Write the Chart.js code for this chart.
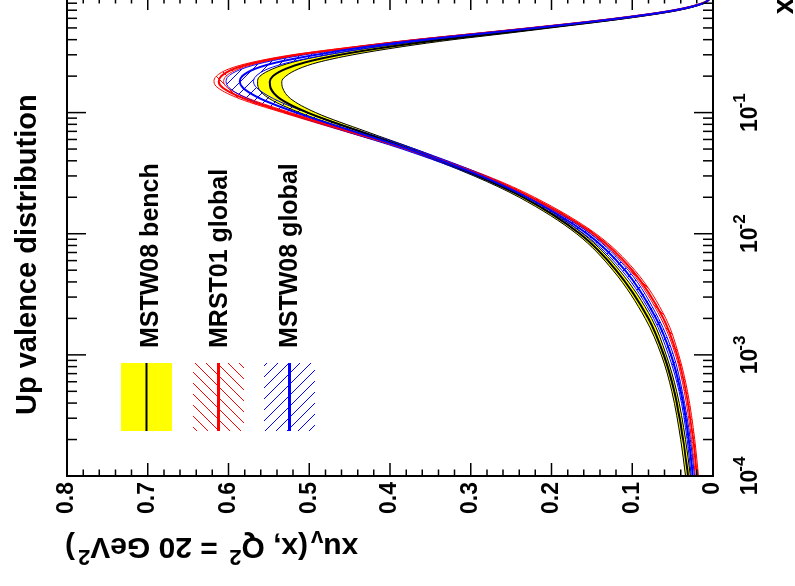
<!DOCTYPE html>
<html>
<head>
<meta charset="utf-8">
<script src="https://cdn.jsdelivr.net/npm/chart.js@4.4.0/dist/chart.umd.min.js"></script>
<style>
html, body { margin: 0; padding: 0; background: #fff; overflow: hidden; width: 795px; height: 586px; }
/* the plot is drawn upright, then turned a quarter turn like the original page */
#wrap { position: absolute; left: 0; top: 0; width: 600px; height: 795px;
        transform-origin: 0 0; transform: translate(0px, 586px) rotate(-90deg); }
#pdfChart { display: block; }
</style>
</head>
<body>
<div id="wrap"><canvas id="pdfChart" width="600" height="795"></canvas></div>
<script>
// x values (log axis) and xu_v at Q^2 = 20 GeV^2
var xs        = [1e-4, 2e-4, 5e-4, 1e-3, 2e-3, 5e-3, 0.01, 0.02, 0.03, 0.05, 0.07, 0.1, 0.13, 0.16, 0.18, 0.2, 0.23, 0.26, 0.3, 0.35, 0.4, 0.45, 0.5, 0.6, 0.7, 0.8, 0.9];
var benchVals = [0.031, 0.037, 0.048, 0.061, 0.080, 0.120, 0.165, 0.235, 0.291, 0.375, 0.438, 0.502, 0.536, 0.548, 0.549, 0.545, 0.529, 0.505, 0.462, 0.400, 0.335, 0.268, 0.210, 0.112, 0.045, 0.012, 0.0015];
var benchErr  = [0.003, 0.003, 0.003, 0.003, 0.004, 0.004, 0.004, 0.005, 0.005, 0.006, 0.008, 0.010, 0.013, 0.015, 0.015, 0.016, 0.016, 0.016, 0.016, 0.015, 0.013, 0.011, 0.009, 0.006, 0.003, 0.001, 0.0003];
var mrstVals  = [0.020, 0.0246, 0.0336, 0.0444, 0.0614, 0.0999, 0.148, 0.225, 0.284, 0.378, 0.451, 0.528, 0.580, 0.607, 0.612, 0.609, 0.593, 0.565, 0.515, 0.438, 0.365, 0.290, 0.224, 0.118, 0.048, 0.013, 0.0015];
var mrstErr   = [0.002, 0.002, 0.002, 0.002, 0.003, 0.003, 0.003, 0.004, 0.004, 0.004, 0.005, 0.005, 0.006, 0.006, 0.006, 0.006, 0.006, 0.006, 0.006, 0.006, 0.005, 0.005, 0.004, 0.003, 0.002, 0.001, 0.0003];
var mstwVals  = [0.025, 0.030, 0.040, 0.052, 0.0705, 0.109, 0.156, 0.2305, 0.2875, 0.377, 0.445, 0.516, 0.560, 0.582, 0.586, 0.583, 0.567, 0.540, 0.492, 0.428, 0.358, 0.285, 0.220, 0.116, 0.047, 0.012, 0.0015];
var mstwErr   = [0.002, 0.002, 0.002, 0.003, 0.003, 0.004, 0.004, 0.005, 0.006, 0.008, 0.010, 0.013, 0.016, 0.017, 0.017, 0.017, 0.016, 0.015, 0.014, 0.012, 0.010, 0.009, 0.007, 0.005, 0.003, 0.001, 0.0003];

var legendLabels = ['MSTW08 bench', 'MRST01 global', 'MSTW08 global'];
var decadeValues = [1e-4, 1e-3, 1e-2, 1e-1];
var decadeExps   = ['-4', '-3', '-2', '-1'];

var FONT = '"Liberation Sans", Arial, Helvetica, sans-serif';
Chart.defaults.font.family = FONT;
Chart.defaults.color = '#000';

function line(vals) {
    return xs.map(function (x, i) { return {x: x, y: vals[i]}; });
}
function band(vals, errs, sign) {
    return xs.map(function (x, i) { return {x: x, y: vals[i] + sign * errs[i]}; });
}

function hatch(color, rising) {
    var s = 11;
    var c = document.createElement('canvas');
    c.width = s; c.height = s;
    var g = c.getContext('2d');
    g.strokeStyle = color;
    g.lineWidth = 1;
    g.beginPath();
    if (rising) {
        g.moveTo(-1, s + 1); g.lineTo(s + 1, -1);
        g.moveTo(-1, 1); g.lineTo(1, -1);
        g.moveTo(s - 1, s + 1); g.lineTo(s + 1, s - 1);
    } else {
        g.moveTo(-1, -1); g.lineTo(s + 1, s + 1);
        g.moveTo(s - 1, -1); g.lineTo(s + 1, 1);
        g.moveTo(-1, s - 1); g.lineTo(1, s + 1);
    }
    g.stroke();
    return g.createPattern(c, 'repeat');
}

var redHatch = hatch('#ff0000', true);
var blueHatch = hatch('#0000ff', false);

var base = { pointRadius: 0, cubicInterpolationMode: 'monotone', fill: false };
function ds(extra) { return Object.assign({}, base, extra); }

var decor = {
    id: 'decor',
    afterDraw: function (chart) {
        var ctx = chart.ctx, a = chart.chartArea;
        var xS = chart.scales.x, yS = chart.scales.y;
        ctx.save();

        // ticks, inward on all four sides
        ctx.strokeStyle = '#000';
        ctx.lineWidth = 1.5;
        ctx.beginPath();
        for (var i = 0; i <= 40; i++) {
            var py = yS.getPixelForValue(i * 0.02);
            var len = (i % 5 === 0) ? 13 : 6.5;
            ctx.moveTo(a.left, py); ctx.lineTo(a.left + len, py);
            ctx.moveTo(a.right, py); ctx.lineTo(a.right - len, py);
        }
        for (var e = -4; e <= 0; e++) {
            for (var m = 1; m <= 9; m++) {
                var v = m * Math.pow(10, e);
                if (v < xS.min * 0.999 || v > xS.max * 1.001) continue;
                var px = xS.getPixelForValue(v);
                var l2 = (m === 1) ? 19 : 10;
                ctx.moveTo(px, a.bottom); ctx.lineTo(px, a.bottom - l2);
                ctx.moveTo(px, a.top); ctx.lineTo(px, a.top + l2);
            }
        }
        ctx.stroke();
        ctx.lineWidth = 2;
        ctx.strokeRect(a.left, a.top, a.right - a.left, a.bottom - a.top);

        // decade labels 10^n
        ctx.fillStyle = '#000';
        ctx.textAlign = 'left';
        ctx.textBaseline = 'alphabetic';
        decadeValues.forEach(function (val, k) {
            var px = xS.getPixelForValue(val);
            ctx.font = 'bold 23px ' + FONT;
            var w1 = ctx.measureText('10').width;
            ctx.font = 'bold 17px ' + FONT;
            var w2 = ctx.measureText(decadeExps[k]).width;
            var start = px - (w1 + w2 - 2) / 2;
            ctx.font = 'bold 23px ' + FONT;
            ctx.fillText('10', start, 757);
            ctx.font = 'bold 17px ' + FONT;
            ctx.fillText(decadeExps[k], start + w1 - 2, 745);
        });

        // title and x title
        ctx.font = 'bold 29px ' + FONT;
        ctx.fillText('Up valence distribution', 171, 36);
        ctx.textAlign = 'right';
        ctx.fillText('x', 588, 793);

        // y title, reading upward, ending at the top of the axis
        var big = 'bold 30px ' + FONT, small = 'bold 22px ' + FONT;
        var parts = [['xu', big, 0, 0], ['v', small, 7, 3], ['(x, Q', big, 0, 0], ['2', small, -12, 3],
                     [' = 20 GeV', big, 0, 0], ['2', small, -12, 3], [')', big, 0, 0]];
        ctx.save();
        ctx.translate(48, 65);
        ctx.rotate(-Math.PI / 2);
        ctx.textAlign = 'left';
        var w = 0;
        parts.forEach(function (p) { ctx.font = p[1]; w += ctx.measureText(p[0]).width + p[3]; });
        var u = -w;
        parts.forEach(function (p) { ctx.font = p[1]; ctx.fillText(p[0], u, p[2]); u += ctx.measureText(p[0]).width + p[3]; });
        ctx.restore();

        // legend
        var fills = ['#ffff00', redHatch, blueHatch];
        var strokes = ['#000', '#ff0000', '#0000ff'];
        var widths = [2, 3, 3];
        var tops = [121, 193, 264];
        var baselines = [158, 227, 297];
        ctx.textAlign = 'left';
        ctx.font = 'bold 25px ' + FONT;
        for (var r = 0; r < 3; r++) {
            ctx.fillStyle = fills[r];
            ctx.fillRect(155, tops[r], 68, 51);
            ctx.strokeStyle = strokes[r];
            ctx.lineWidth = widths[r];
            ctx.beginPath();
            ctx.moveTo(155, tops[r] + 25.5); ctx.lineTo(223, tops[r] + 25.5);
            ctx.stroke();
            ctx.fillStyle = '#000';
            ctx.fillText(legendLabels[r], 238, baselines[r]);
        }
        ctx.restore();
    }
};

var data = {
    datasets: [
        ds({ data: band(benchVals, benchErr, -1), borderColor: '#000', borderWidth: 1, order: 9 }),
        ds({ data: band(benchVals, benchErr, 1), borderColor: '#000', borderWidth: 1, order: 8,
             fill: '-1', backgroundColor: '#ffff00' }),
        ds({ data: band(mrstVals, mrstErr, -1), borderColor: '#ff0000', borderWidth: 1, order: 7 }),
        ds({ data: band(mrstVals, mrstErr, 1), borderColor: '#ff0000', borderWidth: 1, order: 6,
             fill: '-1', backgroundColor: redHatch }),
        ds({ data: band(mstwVals, mstwErr, -1), borderColor: '#0000ff', borderWidth: 1, order: 5 }),
        ds({ data: band(mstwVals, mstwErr, 1), borderColor: '#0000ff', borderWidth: 1, order: 4,
             fill: '-1', backgroundColor: blueHatch }),
        ds({ label: legendLabels[0], data: line(benchVals), borderColor: '#000', borderWidth: 2, order: 3 }),
        ds({ label: legendLabels[1], data: line(mrstVals), borderColor: '#ff0000', borderWidth: 2, order: 2 }),
        ds({ label: legendLabels[2], data: line(mstwVals), borderColor: '#0000ff', borderWidth: 2, order: 1 })
    ]
};

var options = {
    responsive: false,
    animation: false,
    devicePixelRatio: 1,
    layout: { padding: { left: 0, right: 11, top: 67, bottom: 0 } },
    plugins: {
        legend: { display: false },
        tooltip: { enabled: false },
        filler: { drawTime: 'beforeDatasetsDraw' }
    },
    scales: {
        x: {
            type: 'logarithmic',
            min: 1e-4,
            max: 0.9,
            grid: { display: false },
            border: { display: false },
            ticks: { display: false },
            afterFit: function (s) { s.height = 82; }
        },
        y: {
            type: 'linear',
            min: 0,
            max: 0.8,
            grid: { display: false, drawTicks: false },
            border: { display: false },
            ticks: {
                stepSize: 0.1,
                padding: 6,
                font: { size: 23, weight: 'bold' },
                callback: function (v) { return v === 0 ? '0' : v.toFixed(1); }
            },
            afterFit: function (s) { s.width = 110; }
        }
    }
};

var pdfChart = new Chart(document.getElementById('pdfChart'), {
    type: 'line',
    data: data,
    options: options,
    plugins: [decor]
});
</script>
</body>
</html>
